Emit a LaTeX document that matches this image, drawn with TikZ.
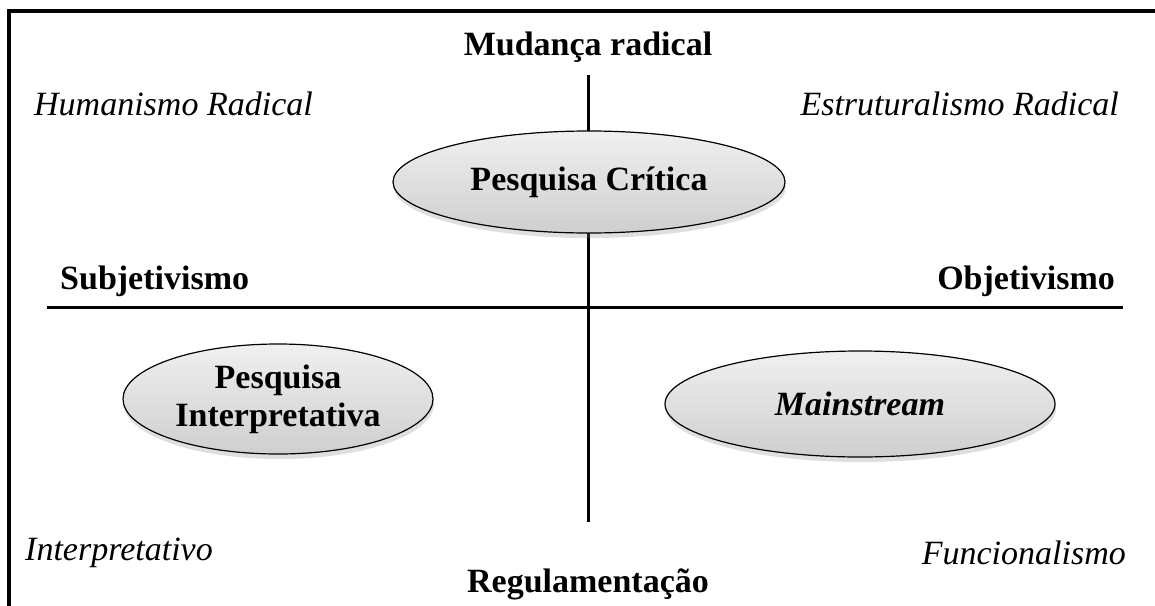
\documentclass[tikz,border=0pt]{standalone}
\usepackage{fontspec}
\setmainfont{Liberation Serif}
\usetikzlibrary{shapes.geometric,shadows}
\tikzset{
  frame/.style={line width=3.5pt, line cap=rect},
  axis/.style={line width=3pt},
  oval/.style={ellipse, draw=black, line width=1.2pt, inner sep=0pt,
    top color=gray!12, bottom color=gray!38, align=center,
    drop shadow={shadow xshift=1pt, shadow yshift=-5pt, opacity=0.25},
    font=\fontsize{34}{37}\selectfont\bfseries},
  ital/.style={font=\fontsize{34}{37}\selectfont\itshape, inner sep=0pt},
  bold/.style={font=\fontsize{34}{37}\selectfont\bfseries, inner sep=0pt}
}
\begin{document}
\begin{tikzpicture}[x=1pt,y=-1pt]
\useasboundingbox (0,0) rectangle (1155,605);
\fill[white] (0,0) rectangle (1155,605);
\coordinate (fb) at (9,610);
\coordinate (fc) at (9,11);
\coordinate (fr) at (1160,11);
\draw[frame] (fb) -- (fc) -- (fr);
% axes
\coordinate (vt) at (588,75);
\coordinate (vb) at (588,522);
\coordinate (hl) at (47,307);
\coordinate (hr) at (1123,307);
\draw[axis] (vt) -- (vb);
\draw[axis] (hl) -- (hr);
% ellipses
\node[oval, minimum width=392pt, minimum height=102pt] (crit) at (589,182) {Pesquisa Crítica};
\node[oval, minimum width=310pt, minimum height=110pt] (interp) at (278,399) {Pesquisa\\[1pt]Interpretativa};
\node[oval, minimum width=390pt, minimum height=106pt] (main) at (860,404) {\itshape Mainstream};
% labels
\node[bold] (mud) at (588,47) {Mudança radical};
\node[bold] (reg) at (588,584) {Regulamentação};
\node[bold, anchor=west] (subj) at (60,281) {Subjetivismo};
\node[bold, anchor=east] (obj) at (1115,281) {Objetivismo};
\node[ital, anchor=west] (hum) at (34,104) {Humanismo Radical};
\node[ital, anchor=east] (est) at (1119,104) {Estruturalismo Radical};
\node[ital, anchor=west] (int) at (25,553) {Interpretativo};
\node[ital, anchor=east] (fun) at (1126,553) {Funcionalismo};
\end{tikzpicture}
\end{document}
